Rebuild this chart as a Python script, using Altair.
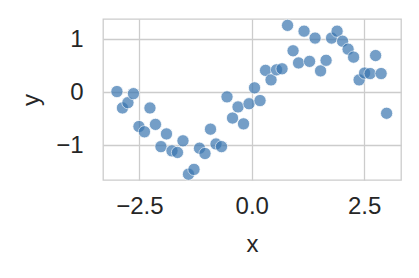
import altair as alt
import pandas as pd

x_vals = [-3.0 + 6.0 * i / 49 for i in range(50)]
y_vals = [0.01, -0.30, -0.20, -0.03, -0.65, -0.75, -0.30, -0.61, -1.03, -0.79,
          -1.11, -1.14, -0.92, -1.55, -1.46, -1.06, -1.16, -0.70, -0.98, -1.03,
          -0.09, -0.49, -0.28, -0.60, -0.22, 0.08, -0.16, 0.41, 0.23, 0.42,
          0.44, 1.26, 0.78, 0.55, 1.15, 0.58, 1.02, 0.40, 0.60, 1.02,
          1.15, 0.96, 0.81, 0.66, 0.23, 0.36, 0.35, 0.69, 0.35, -0.40]

df = pd.DataFrame({"x": x_vals, "y": y_vals})

FONT = "Liberation Sans"

chart = alt.Chart(df).mark_circle(
    size=150, color="#3a76b0", opacity=0.7, stroke="white", strokeWidth=0.8
).encode(
    x=alt.X("x:Q", scale=alt.Scale(domain=[-3.31, 3.32], nice=False, zero=False),
            axis=alt.Axis(values=[-2.5, 0.0, 2.5], format=".1f", title="x",
                          labelPadding=14, titlePadding=14)),
    y=alt.Y("y:Q", scale=alt.Scale(domain=[-1.66, 1.38], nice=False, zero=False),
            axis=alt.Axis(values=[-1, 0, 1], format="d", title="y",
                          labelPadding=20, titlePadding=12)),
).properties(
    width=298, height=161,
    autosize=alt.AutoSizeParams(type="none"),
    padding={"left": 103, "top": 19, "right": 18, "bottom": 98},
).configure_view(
    stroke="#cccccc", strokeWidth=1.3
).configure_axis(
    grid=True, gridColor="#cccccc", gridWidth=1.3,
    domain=False, ticks=False,
    labelFont=FONT, labelFontSize=24, labelColor="#262626",
    titleFont=FONT, titleFontSize=24, titleColor="#262626", titleFontWeight="normal",
).configure_axisY(titleAngle=-90)

chart.save("out.html", embed_options={"renderer": "svg", "actions": False})
